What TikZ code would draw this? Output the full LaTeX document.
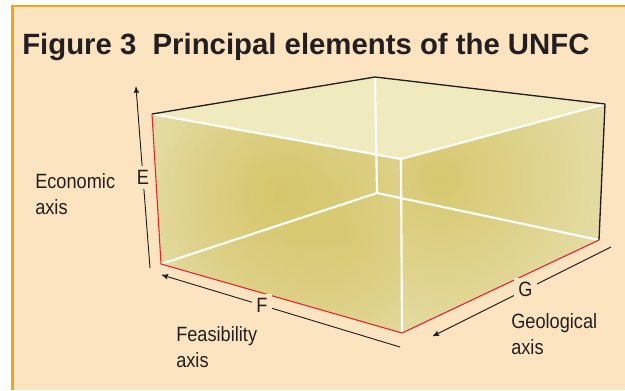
\documentclass[tikz,border=0pt]{standalone}
\usepackage{fontspec}
\setmainfont{Liberation Sans}
\newfontfamily\labelfont[FakeStretch=0.88]{Liberation Sans}
\usetikzlibrary{arrows,fadings}
\definecolor{peach}{HTML}{FDE4C1}
\definecolor{frameorange}{HTML}{F6A21C}
\definecolor{topface}{HTML}{F0EBBE}
\definecolor{sideface}{HTML}{EEEACA}
\definecolor{olive}{HTML}{D5C566}
\definecolor{edgered}{HTML}{E8202A}
\definecolor{ink}{HTML}{231F20}
\tikzfading[name=spot,inner color=transparent!0,outer color=transparent!100]

\begin{document}
\begin{tikzpicture}[x=0.75pt,y=-0.75pt,
  axis/.style={->,>=stealth',line width=0.7pt,ink},
  axislabel/.style={fill=peach,inner sep=3pt,text=ink,font=\labelfont\fontsize{15.5}{19.5}\selectfont},
  textlabel/.style={inner sep=0pt,align=left,text=ink,font=\labelfont\fontsize{15.5}{19.5}\selectfont},
  edge/.style={white,line width=1.6pt},
  rim/.style={ink,line width=1pt,line join=round},
  redrim/.style={edgered,line width=0.8pt,line join=round}]
\useasboundingbox (0,0) rectangle (625,390);
\fill[white] (0,0) rectangle (625,390);
\fill[peach] (12,6) rectangle (625,390);
\draw[frameorange,line width=2pt] (12.5,390) -- (12.5,6) -- (625,6);

% corners of the box
\coordinate (tl) at (152,114);
\coordinate (tb) at (375,77);
\coordinate (tr) at (605,104);
\coordinate (tf) at (401,159);
\coordinate (bl) at (161,264);
\coordinate (bf) at (402,333);
\coordinate (br) at (599,240);
\coordinate (bb) at (377,193);

% faces
\fill[topface] (tl) -- (tb) -- (tr) -- (tf) -- cycle;
\begin{scope}
  \clip (tl) -- (tf) -- (bf) -- (bl) -- cycle;
  \fill[sideface] (tl) -- (tf) -- (bf) -- (bl) -- cycle;
  \fill[olive,path fading=spot,opacity=.9] (280,192) circle (250);
  \fill[olive,path fading=spot,opacity=.6] (350,240) circle (200);
\end{scope}
\begin{scope}
  \clip (tf) -- (tr) -- (br) -- (bf) -- cycle;
  \fill[sideface] (tf) -- (tr) -- (br) -- (bf) -- cycle;
  \fill[olive,path fading=spot,opacity=.9] (440,178) circle (290);
\end{scope}

% edges
\draw[edge] (tb) -- (bb) (bb) -- (bl) (bb) -- (br);
\draw[edge] (tl) -- (tf) -- (tr) (tf) -- (bf);
\draw[rim] (tl) -- (tb) -- (tr) -- (br);
\draw[redrim] (tl) -- (bl) -- (bf) -- (br);

% axes
\coordinate (e0) at (150,268);
\coordinate (e1) at (136,87);
\coordinate (f0) at (400,347);
\coordinate (f1) at (162,275);
\coordinate (g0) at (611,247);
\coordinate (g1) at (433,336);
\draw[axis] (e0) -- node[axislabel,pos=.5] (elab) {E} (e1);
\draw[axis] (f0) -- node[axislabel,pos=.58] (flab) {F} (f1);
\draw[axis] (g0) -- node[axislabel,pos=.48] (glab) {G} (g1);

\node[textlabel,anchor=north west] (econ) at (35,173.5) {Economic\\axis};
\node[textlabel,anchor=north west] (feas) at (176,326.5) {Feasibility\\axis};
\node[textlabel,anchor=north west] (geol) at (511,313.5) {Geological\\axis};
\node[anchor=base west,inner sep=0pt,text=ink,font=\fontsize{22}{26}\selectfont\bfseries] (title) at (22,54) {Figure 3\ \ Principal elements of the UNFC};
\end{tikzpicture}
\end{document}
